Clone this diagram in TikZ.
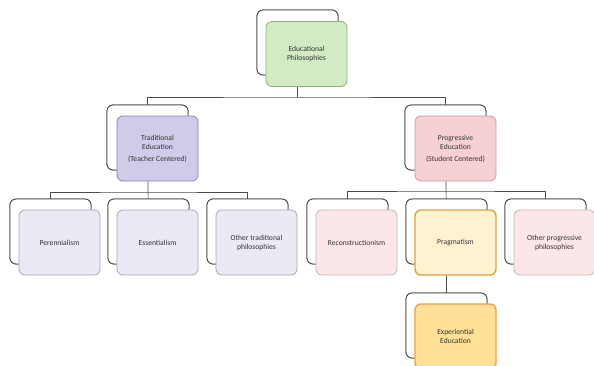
\documentclass[tikz,border=0pt]{standalone}
\usepackage{fontspec}
\setmainfont{Carlito}
\definecolor{gfill}{HTML}{D3EBC5}
\definecolor{gdraw}{HTML}{8FB07E}
\definecolor{pfill}{HTML}{CFCBE8}
\definecolor{pdraw}{HTML}{8A84B8}
\definecolor{rfill}{HTML}{F7D0D3}
\definecolor{rdraw}{HTML}{C99A9E}
\definecolor{lpfill}{HTML}{EBE9F4}
\definecolor{lpdraw}{HTML}{A9A7B8}
\definecolor{lrfill}{HTML}{FCE7E8}
\definecolor{lrdraw}{HTML}{C8B4B6}
\definecolor{yfill}{HTML}{FFF2D0}
\definecolor{ydraw}{HTML}{D6A63E}
\definecolor{ofill}{HTML}{FFE096}
\definecolor{odraw}{HTML}{F2A044}
\begin{document}
\begin{tikzpicture}[x=1pt,y=-1pt,
  backbox/.style={draw=black!75,fill=white,rounded corners=6pt,line width=0.8pt,minimum width=81pt,minimum height=65pt,inner sep=0pt},
  frontbox/.style={rounded corners=6pt,line width=0.8pt,minimum width=81pt,minimum height=65pt,inner sep=1pt,align=center,font=\fontsize{7.6}{9}\selectfont,text=black!80},
  green/.style={frontbox,draw=gdraw,fill=gfill},
  purp/.style={frontbox,draw=pdraw,fill=pfill},
  pink/.style={frontbox,draw=rdraw,fill=rfill},
  lpurp/.style={frontbox,draw=lpdraw,fill=lpfill},
  lpink/.style={frontbox,draw=lrdraw,fill=lrfill},
  yel/.style={frontbox,draw=ydraw,line width=1.4pt,fill=yfill},
  orng/.style={frontbox,draw=odraw,line width=1.4pt,fill=ofill},
  conn/.style={draw=black!70,line width=0.7pt}]
\clip (0,0) rectangle (594,365);
\fill[white] (0,0) rectangle (594,365);
% back boxes
\node[backbox] (topb) at (297.5,42.5) {};
\node[backbox] (tradb) at (147.5,137.5) {};
\node[backbox] (progb) at (445.5,137.5) {};
\node[backbox] (perb) at (50.5,231.5) {};
\node[backbox] (essb) at (148.5,231.5) {};
\node[backbox] (othb) at (247.5,231.5) {};
\node[backbox] (recb) at (347.5,231.5) {};
\node[backbox] (pragb) at (446.5,231.5) {};
\node[backbox] (othpb) at (545.5,231.5) {};
\node[backbox] (expb) at (446.5,325.5) {};
% connectors
\coordinate (bus1) at (0,97);
\coordinate (bus2) at (0,192);
\coordinate (bus3) at (0,191);
\draw[conn] (tradb.center) |- (topb.center |- bus1) -| (progb.center);
\draw[conn] (topb.center) -- (topb.center |- bus1);
\draw[conn] (perb.center) |- (tradb.center |- bus2) -| (othb.center);
\draw[conn] (tradb.center) -- (essb.center);
\draw[conn] (recb.center) |- (progb.center |- bus3) -| (othpb.center);
\draw[conn] (progb.center) -- (pragb.center);
\draw[conn] (pragb.center) -- (expb.center);
% redraw back boxes over connectors
\foreach \n/\x/\y in {topb2/297.5/42.5, tradb2/147.5/137.5, progb2/445.5/137.5, perb2/50.5/231.5, essb2/148.5/231.5, othb2/247.5/231.5, recb2/347.5/231.5, pragb2/446.5/231.5, othpb2/545.5/231.5, expb2/446.5/325.5}
  \node[backbox] (\n) at (\x,\y) {};
% front boxes
\node[green] (top) at (306.5,54) {Educational\\Philosophies};
\node[purp] (trad) at (157.5,148.5) {Traditional\\Education\\[3pt](Teacher Centered)};
\node[pink] (prog) at (455.5,148.5) {Progressive\\Education\\[3pt](Student Centered)};
\node[lpurp] (per) at (59.5,242.5) {Perennialism};
\node[lpurp] (ess) at (157.5,242.5) {Essentialism};
\node[lpurp] (oth) at (256.5,242.5) {Other traditional\\philosophies};
\node[lpink] (rec) at (356.5,242.5) {Reconstructionism};
\node[yel] (prag) at (455.5,242.5) {Pragmatism};
\node[lpink] (othp) at (554.5,242.5) {Other progressive\\philosophies};
\node[orng] (exp) at (455.5,336.5) {Experiential\\Education};
\end{tikzpicture}
\end{document}
